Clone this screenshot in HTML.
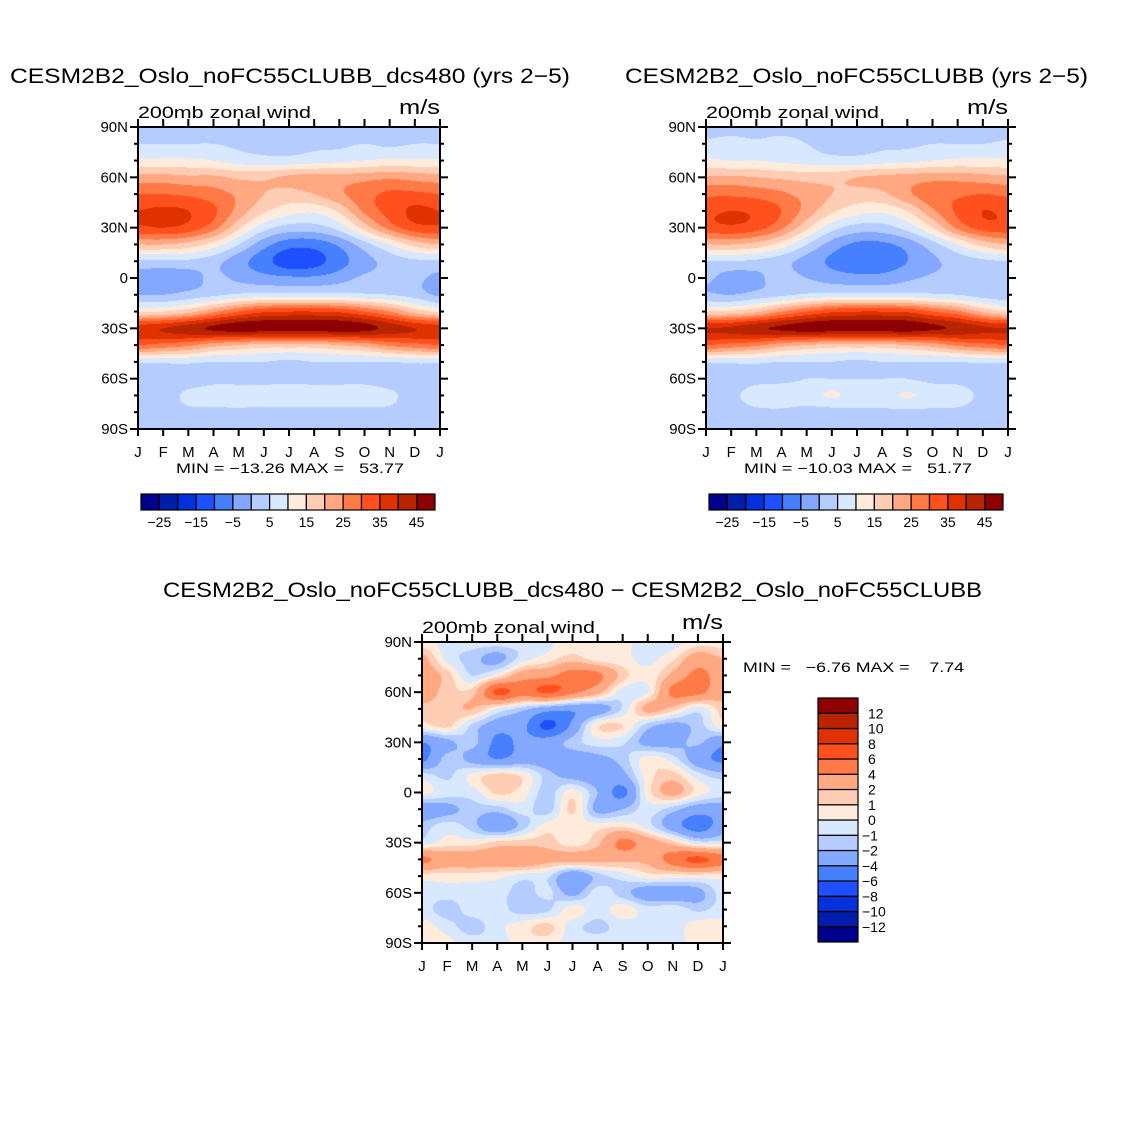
<!DOCTYPE html>
<html><head><meta charset="utf-8"><title>200mb zonal wind</title>
<style>
html,body{margin:0;padding:0;background:#fff;}
#wrap{position:relative;width:1146px;height:1146px;overflow:hidden;background:#fff;}
canvas{position:absolute;}
svg{position:absolute;left:0;top:0;}
text{font-family:"Liberation Sans",sans-serif;fill:#000;}
</style></head>
<body>
<div id="wrap">
<canvas id="c1"></canvas>
<canvas id="c2"></canvas>
<canvas id="c3"></canvas>
<svg id="ov" width="1146" height="1146">
<text x="10" y="83" font-size="21" textLength="560" lengthAdjust="spacingAndGlyphs">CESM2B2_Oslo_noFC55CLUBB_dcs480 (yrs 2−5)</text>
<text x="625" y="83" font-size="21" textLength="463" lengthAdjust="spacingAndGlyphs">CESM2B2_Oslo_noFC55CLUBB (yrs 2−5)</text>
<text x="163" y="597" font-size="21" textLength="819" lengthAdjust="spacingAndGlyphs">CESM2B2_Oslo_noFC55CLUBB_dcs480 − CESM2B2_Oslo_noFC55CLUBB</text>
<text x="176" y="473" font-size="14" textLength="228" lengthAdjust="spacingAndGlyphs" xml:space="preserve">MIN = −13.26 MAX =   53.77</text>
<text x="744" y="473" font-size="14" textLength="228" lengthAdjust="spacingAndGlyphs" xml:space="preserve">MIN = −10.03 MAX =   51.77</text>
<text x="743" y="672" font-size="14" textLength="221" lengthAdjust="spacingAndGlyphs" xml:space="preserve">MIN =   −6.76 MAX =    7.74</text>
</svg>
</div>
<script>
// ---- data: rows = latitude 90N..90S every 10°, columns = months J..J (13) ----
const months = ["J","F","M","A","M","J","J","A","S","O","N","D","J"];
const latTicks = ["90N","60N","30N","0","30S","60S","90S"];
const levelsWind = [-25,-20,-15,-10,-5,0,5,10,15,20,25,30,35,40,45];
const levelLabelsWind = ["−25","−15","−5","5","15","25","35","45"];
const levelsDiff = [-12,-10,-8,-6,-4,-2,-1,0,1,2,4,6,8,10,12];
const levelLabelsDiff = ["−12","−10","−8","−6","−4","−2","−1","0","1","2","4","6","8","10","12"];
const colors16 = ["#00008c","#001eaa","#0032dc","#1e50ff","#4680ff","#82a8ff","#b4ccff","#d8e8ff","#ffebdc","#ffcdb4","#ffa882","#ff7a46","#ff501e","#e03200","#b82300","#8c0000"];

const field1 = [
[3,3,3,3,3,3,3,3,3,2,1.5,3,3],
[5,5,5,5,4,3,3,4,4,5,4,5,5],
[11,11,11,10,8,7,7,8,9,10,11,11,11],
[22,22,21,21,19,19,21,22,22,23,24,23,22],
[30,30,29,27,24,20,18,20,24,28,31,31,30],
[35,36,35,31,23,16,12,11,16,26,32,36,35],
[34,35,33,27,16,7,3,3,7,17,27,33,34],
[20,20,18,13,5,-3,-8,-8,-4,3,10,17,20],
[4,4,4,2,-3,-8,-13,-12,-7,-2,2,4,4],
[-2,-3,-2,1,-1,-3,-4,-4,-2,1,2,1,-1],
[0,0,2,4,6,7,7,7,7,6,5,3,-1],
[14,15,18,24,30,34,35,35,34,30,25,18,14],
[38,40,43,46,48,48,48,48,48,47,43,40,38],
[30,28,26,22,20,18,18,18,20,22,26,28,30],
[6,6,6,5,5,5,4,5,5,5,5,6,6],
[3,3,3,4,4,4,4,4,4,4,3,3,3],
[3,3,6,7,7,7,7,7,7,7,6,3,3],
[3,3,4,4,4,4,4,4,4,4,4,3,3],
[2,2,2,2,1,2,2,2,2,2,2,2,2]];

const field2 = [
[3,3,3,3,3,3,3,3,3,3,2,1.5,3],
[6,7,6,7,5,3,3,4,4,5,5,5,6],
[11,10,10,9,8,7,7,8,9,10,11,11,11],
[21,21,20,19,18,18,20,21,22,23,23,22,21],
[29,29,28,26,23,20,18,19,24,28,29,30,29],
[34,35,34,30,23,16,12,11,15,24,31,35,34],
[33,34,32,26,16,7,3,3,7,15,26,32,33],
[20,20,18,13,5,-2,-6,-6,-3,3,10,17,20],
[5,5,4,2,-2,-6,-9,-8,-5,-1,2,4,5],
[1,-2,-1,2,0,-2,-3,-3,-1,1,2,2,1],
[1,0,2,4,6,7,7,7,7,6,5,3,2],
[15,16,19,25,30,34,35,35,34,30,26,19,15],
[40,41,44,46,48,48,48,48,48,46,44,41,40],
[30,28,26,22,20,18,18,18,20,22,26,28,30],
[6,6,6,5,5,5,4,5,5,5,5,6,6],
[3,3,4,4,5,5,5,5,5,4,4,3,3],
[3,4,7,8,8,10.6,8,8,10.4,8,7,4,3],
[3,3,4,4,3,3,4,4,4,4,4,3,3],
[2,2,2,1,1,2,2,2,2,2,2,2,2]];

const field3 = [
[0.5,-0.5,-0.5,-0.5,-0.5,-0.3,0.5,0.5,0.3,-0.5,-0.5,0.5,0.5],
[2.5,-0.3,-1.5,-2.5,-0.5,0.5,1.5,0.5,0.3,-0.3,0.8,3,2],
[3,1.5,-1,0.5,3,3.5,5,4.5,1.5,0.3,2.5,4.5,3],
[3,1.5,1.5,6.5,5,6.3,4.5,2.5,-0.5,0,4.5,4.5,2.5],
[1.5,1.5,2,0,-1.5,-3,-3.5,-3,-0.8,2.5,1.5,-0.5,1.5],
[0.5,1.3,-1.2,-3,-3.5,-6.5,-3.5,0.8,1,-1.5,-2.5,-1.5,0.5],
[-4,-2.5,-1.5,-4.5,-3.5,-3,-1.5,-0.5,-0.8,-2.5,-2.5,-1.8,-3.5],
[-4.5,-1.5,-2.5,-4,-3,-3,-3,-2.5,-1.5,0.5,-0.5,-3,-4.5],
[-0.5,-1.2,0.3,1.5,0.8,-1.5,-2.5,-3,-2.5,0.5,1.5,-0.5,-1.5],
[0.3,-0.5,-0.5,1.2,0.5,-1.5,0.5,-2,-4.5,0.5,2.5,0.5,-0.5],
[-3,-2.5,-1.5,-1.5,-0.5,-1.5,1.2,-2.5,-2,-0.5,-1.5,-3,-3],
[-1.5,-0.5,-1.5,-3.5,-1.5,0.5,0.3,0.5,0.8,-0.5,-3,-5,-3],
[-0.5,0.5,0.5,1.3,1.5,1.5,0.5,1.7,4.5,3,1.5,-0.5,-0.5],
[4.5,3,3,3,3.5,2.5,2.5,2.5,2.5,2.5,5,6.5,5],
[0.5,0.5,0.5,0.3,-0.5,-0.8,-3.5,-1.5,-0.5,0.5,0.5,0.5,0.5],
[-0.5,-0.5,-0.5,-0.5,-1.5,-0.7,-2.5,-0.5,-1.5,-3,-3,-2.5,-0.5],
[-0.5,-1.5,-0.5,-0.5,-1.5,-1.2,0.5,-0.5,0.5,-0.5,-0.3,-1.2,-0.5],
[0.5,-0.5,-1.5,-0.3,0.5,1.3,-0.5,-1.3,-0.5,-0.5,-0.5,0.5,0.5],
[0.5,0.3,-0.5,-0.5,0.5,0.5,-0.5,-0.5,-0.5,-0.5,-0.5,0.5,0.5]];

const NS = "http://www.w3.org/2000/svg";
const ov = document.getElementById("ov");
function mk(tag, attrs, txt){
  const e = document.createElementNS(NS, tag);
  for (const k in attrs) e.setAttribute(k, attrs[k]);
  if (txt !== undefined) e.textContent = txt;
  ov.appendChild(e);
  return e;
}
function cr(p0,p1,p2,p3,t){
  return 0.5*((2*p1)+(-p0+p2)*t+(2*p0-5*p1+4*p2-p3)*t*t+(-p0+3*p1-3*p2+p3)*t*t*t);
}
function sample(F,u,v){
  const nr=F.length,nc=F[0].length;
  const i=Math.min(Math.floor(u),nc-2), j=Math.min(Math.floor(v),nr-2);
  const tu=u-i, tv=v-j;
  const col=c=>Math.max(0,Math.min(nc-1,c)), row=r=>Math.max(0,Math.min(nr-1,r));
  const rows=[];
  for(let dj=-1;dj<=2;dj++){
    const R=F[row(j+dj)];
    rows.push(cr(R[col(i-1)],R[col(i)],R[col(i+1)],R[col(i+2)],tu));
  }
  return cr(rows[0],rows[1],rows[2],rows[3],tv);
}
function classify(v,lev){let k=0;while(k<lev.length&&v>=lev[k])k++;return k;}
function hexRgb(h){return [parseInt(h.slice(1,3),16),parseInt(h.slice(3,5),16),parseInt(h.slice(5,7),16)];}
const rgb16 = colors16.map(hexRgb);

function drawField(id,F,lev,x0,y0,x1,y1){
  const c=document.getElementById(id);
  const w=x1-x0,h=y1-y0;
  c.width=w;c.height=h;c.style.left=x0+"px";c.style.top=y0+"px";
  const ctx=c.getContext("2d");
  const img=ctx.createImageData(w,h);
  for(let py=0;py<h;py++){
    const v=(py+0.5)/h*(F.length-1);
    for(let px=0;px<w;px++){
      const u=(px+0.5)/w*(F[0].length-1);
      const col=rgb16[classify(sample(F,u,v),lev)];
      const o=(py*w+px)*4;
      img.data[o]=col[0];img.data[o+1]=col[1];img.data[o+2]=col[2];img.data[o+3]=255;
    }
  }
  ctx.putImageData(img,0,0);
}

function drawAxes(p,x0,y0,x1,y1){
  const w=x1-x0,h=y1-y0;
  const xs=i=>x0+i*w/(months.length-1);
  const ys=lat=>y0+(90-lat)/180*h;
  months.forEach((m,i)=>{
    let t=mk("line",{x1:xs(i),y1:y0,x2:xs(i),y2:y0-8,stroke:"#000","stroke-width":2});
    
    
    t=mk("line",{x1:xs(i),y1:y1,x2:xs(i),y2:y1+7,stroke:"#000","stroke-width":2});
    
    
    t=mk("text",{x:xs(i),y:y1+28,"font-size":15,"text-anchor":"middle"},m);
    
    
  });
  for(let lat=90;lat>=-90;lat-=10){
    const major = lat%30===0;
    const len = major?8:4;
    let t=mk("line",{x1:x0,y1:ys(lat),x2:x0-len,y2:ys(lat),stroke:"#000","stroke-width":2});
    
    
    t=mk("line",{x1:x1,y1:ys(lat),x2:x1+len,y2:ys(lat),stroke:"#000","stroke-width":2});
    
    
  }
  latTicks.forEach((lab,k)=>{
    const t=mk("text",{x:x0-10,y:ys(90-30*k)+5,"font-size":15,"text-anchor":"end"},lab);
    
    
  });
  let r=mk("rect",{x:x0,y:y0,width:w,height:h,fill:"none",stroke:"#000","stroke-width":2});
  
  
  r=mk("text",{x:x0,y:y0-9,"font-size":17,textLength:173,lengthAdjust:"spacingAndGlyphs"},"200mb zonal wind");
  
  
  r=mk("text",{x:x1,y:y0-13,"font-size":20,"text-anchor":"end",textLength:41,lengthAdjust:"spacingAndGlyphs"},"m/s");
  
  
}

function hColorbar(p,x0,y0,x1,y1){
  const bw=(x1-x0)/16;
  colors16.forEach((c,i)=>{
    const r=mk("rect",{x:x0+i*bw,y:y0,width:bw,height:y1-y0,fill:c,stroke:"#000","stroke-width":1.2});
    
    
  });
  levelLabelsWind.forEach((lab,k)=>{
    const t=mk("text",{x:x0+(2*k+1)*bw,y:y1+17,"font-size":14,"text-anchor":"middle"},lab);
    
    
  });
}
function vColorbar(p,x0,y0,x1,y1){
  const bh=(y1-y0)/16;
  colors16.forEach((c,i)=>{
    const r=mk("rect",{x:x0,y:y1-(i+1)*bh,width:x1-x0,height:bh,fill:c,stroke:"#000","stroke-width":1.2});
    
    
  });
  levelLabelsDiff.forEach((lab,k)=>{
    const neg = lab.charAt(0)==="−";
    const t=mk("text",{x:neg?x1+4:x1+10,y:y1-(k+1)*bh+5,"font-size":14},lab);
    
    
  });
}

drawField("c1",field1,levelsWind,138,127,440,429);
drawField("c2",field2,levelsWind,706,127,1008,429);
drawField("c3",field3,levelsDiff,422,642,723,943);
drawAxes("panel1",138,127,440,429);
drawAxes("panel2",706,127,1008,429);
drawAxes("panel3",422,642,723,943);
hColorbar("panel1",141,494,435,510);
hColorbar("panel2",709,494,1003,510);
vColorbar("panel3",818,698,858,942);
</script>
</body></html>
